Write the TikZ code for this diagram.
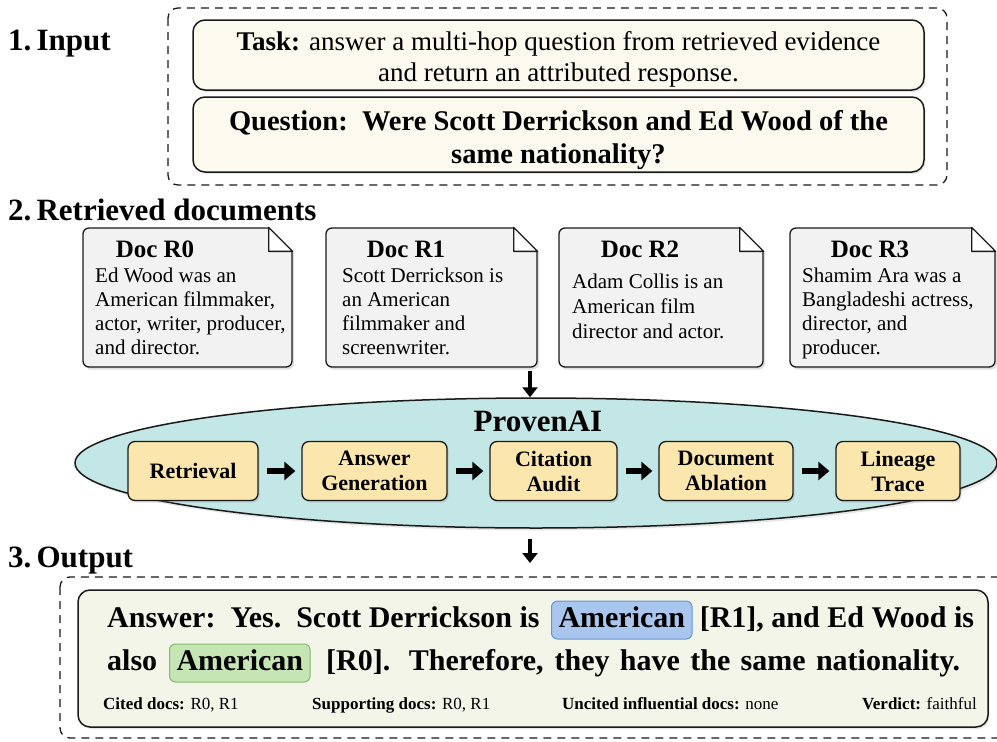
\documentclass[tikz,border=0pt]{standalone}
\usepackage{fontspec}
\setmainfont{Liberation Serif}
\usetikzlibrary{shapes.geometric,arrows.meta,shadows,calc}
\definecolor{creambg}{HTML}{FCF9EE}
\definecolor{answerbg}{HTML}{F3F5E8}
\definecolor{tealbg}{HTML}{C3E6E6}
\definecolor{stagebg}{HTML}{FBE6AE}
\definecolor{docbg}{HTML}{F2F2F2}
\definecolor{hlblue}{HTML}{A9C6EE}
\definecolor{hlblueb}{HTML}{6792D6}
\definecolor{hlgreen}{HTML}{C6E5B5}
\definecolor{hlgreenb}{HTML}{80BC6C}
\definecolor{ink}{HTML}{1A1A1A}
\newcommand\dogear[1]{%
  \fill[white] ($(#1.north east)+(-24pt,0)$) -- ($(#1.north east)+(-24pt,3pt)$) -- ($(#1.north east)+(5pt,3pt)$) -- ($(#1.north east)+(5pt,-24pt)$) -- ($(#1.north east)+(0,-24pt)$) -- cycle;
  \draw[line width=1.3pt, draw=ink, fill=white, line join=round] ($(#1.north east)+(-24pt,0)$) -- ($(#1.north east)+(0,-24pt)$) -- ($(#1.north east)+(-24pt,-24pt)$) -- cycle;}
\begin{document}
\begin{tikzpicture}[x=1pt,y=-1pt,
  secttitle/.style={anchor=base west, inner sep=0pt, font=\fontsize{31}{36}\selectfont\bfseries},
  dashbox/.style={draw=ink, line width=1.3pt, dash pattern=on 8pt off 6pt, rounded corners=10pt},
  inbox/.style={draw=ink, line width=1.5pt, fill=creambg, rounded corners=12pt,
     drop shadow={opacity=0.2, shadow xshift=1.5pt, shadow yshift=-2pt}},
  intext/.style={align=center, inner sep=0pt},
  docbox/.style={draw=ink, line width=1.3pt, fill=docbg, rounded corners=6pt, minimum height=139pt,
     drop shadow={opacity=0.25, shadow xshift=2pt, shadow yshift=-2.5pt}},
  doctitle/.style={anchor=base, inner sep=0pt, font=\fontsize{25}{28}\selectfont\bfseries},
  docbody/.style={anchor=base west, inner sep=0pt},
  stage/.style={draw=ink, line width=1.3pt, fill=stagebg, rounded corners=7pt, minimum height=59pt,
     align=center, font=\fontsize{22}{25}\selectfont\bfseries,
     drop shadow={opacity=0.25, shadow xshift=1.5pt, shadow yshift=-2pt}},
  harr/.style={line width=5.5pt, -{Triangle[length=11pt,width=18pt]}, shorten <=8pt, shorten >=6pt},
  varr/.style={line width=4pt, -{Triangle[length=10pt,width=15pt]}},
  hl/.style={anchor=base west, rounded corners=6pt, line width=1pt, inner xsep=7pt,
     text height=21pt, text depth=7pt, inner ysep=5pt, font=\fontsize{30}{36}\selectfont\bfseries},
  ans/.style={anchor=base west, inner sep=0pt, font=\fontsize{30}{36}\selectfont\bfseries},
  foot/.style={anchor=base west, inner sep=0pt, font=\fontsize{17}{20}\selectfont}
]
\useasboundingbox (0,0) rectangle (997,742);

% ---------- 1. Input ----------
\node[secttitle] (s1) at (8,50) {1.\,Input};
\draw[dashbox] (168,8) rectangle (947,185);
\node[inbox, minimum width=731pt, minimum height=70pt] (task) at (558.5,55) {};
\node[intext, font=\fontsize{27}{31}\selectfont] (tasktxt) at ([yshift=-4pt]task.center)
  {\textbf{Task:} answer a multi-hop question from retrieved evidence\\and return an attributed response.};
\node[inbox, minimum width=731pt, minimum height=75pt] (quest) at (558.5,134.5) {};
\node[intext, font=\fontsize{28.5}{33}\selectfont\bfseries] (questtxt) at ([yshift=-6pt]quest.center)
  {Question:~~Were Scott Derrickson and Ed Wood of the\\same nationality?};

% ---------- 2. Retrieved documents ----------
\node[secttitle] (s2) at (8,220) {2.\,Retrieved documents};

\node[docbox, minimum width=209pt] (d0) at (187.5,297.5) {};
\node[docbox, minimum width=211pt] (d1) at (431.5,297.5) {};
\node[docbox, minimum width=204pt] (d2) at (661,297.5) {};
\node[docbox, minimum width=205pt] (d3) at (892.5,297.5) {};
\dogear{d0}\dogear{d1}\dogear{d2}\dogear{d3}

\node[doctitle] (t0) at (155,257) {Doc R0};
\node[doctitle] (t1) at (406,257) {Doc R1};
\node[doctitle] (t2) at (640,257) {Doc R2};
\node[doctitle] (t3) at (870,257) {Doc R3};

\node[docbody] (b0) at (95,282) {\parbox[t]{195pt}{\fontsize{21}{24}\selectfont\raggedright Ed Wood was an\\American filmmaker,\\actor, writer, producer,\\and director.}};
\node[docbody] (b1) at (342,282) {\parbox[t]{190pt}{\fontsize{21}{24}\selectfont\raggedright Scott Derrickson is\\an American\\filmmaker and\\screenwriter.}};
\node[docbody] (b2) at (572,288) {\parbox[t]{185pt}{\fontsize{21}{25}\selectfont\raggedright Adam Collis is an\\American film\\director and actor.}};
\node[docbody] (b3) at (802,282) {\parbox[t]{190pt}{\fontsize{21}{24}\selectfont\raggedright Shamim Ara was a\\Bangladeshi actress,\\director, and\\producer.}};

% ---------- ProvenAI ----------
\node[ellipse, draw=ink, line width=1.5pt, fill=tealbg, minimum width=922pt, minimum height=130pt,
      drop shadow={opacity=0.2, shadow xshift=2pt, shadow yshift=-2.5pt}] (ell) at (536,463) {};
\node[anchor=base, inner sep=0pt, font=\fontsize{31}{36}\selectfont\bfseries] (prov) at (538,431) {ProvenAI};

\node[stage, minimum width=130pt] (st1) at (193,471) {Retrieval};
\node[stage, minimum width=145pt] (st2) at (374.5,471) {Answer\\Generation};
\node[stage, minimum width=127pt] (st3) at (553.5,471) {Citation\\Audit};
\node[stage, minimum width=134pt] (st4) at (726,471) {Document\\Ablation};
\node[stage, minimum width=124pt] (st5) at (898,471) {Lineage\\Trace};
\draw[harr] (st1) -- (st2);
\draw[harr] (st2) -- (st3);
\draw[harr] (st3) -- (st4);
\draw[harr] (st4) -- (st5);

\coordinate (ax) at (530,0);
\coordinate (aend) at (530,563);
\draw[varr, shorten <=3pt] (d1.south -| ax) -- (ell.north -| ax);
\draw[varr, shorten <=10pt] (ell.south -| ax) -- (aend);

% ---------- 3. Output ----------
\node[secttitle] (s3) at (8,567) {3.\,Output};
\draw[dashbox] (60,577) rectangle (1010,738);
\node[draw=ink, line width=1.5pt, fill=answerbg, rounded corners=12pt, minimum width=910pt, minimum height=137pt,
      drop shadow={opacity=0.2, shadow xshift=1.5pt, shadow yshift=-2pt}] (ansbox) at (533,658.5) {};

\node[ans] (l1a) at (107,627) {Answer:~~Yes.~~Scott Derrickson is};
\node[hl, fill=hlblue, draw=hlblueb] (am1) at (551,627) {American};
\node[ans] (l1b) at ([xshift=7pt]am1.base east) {[R1], and Ed Wood is};

\node[ans] (l2a) at (107,670) {also};
\node[hl, fill=hlgreen, draw=hlgreenb] (am2) at (169,670) {American};
\node[ans] (l2b) at (326,670) {\makebox[634pt][s]{[R0]. Therefore, they have the same nationality.}};

\node[foot] (f1) at (103,709) {\textbf{Cited docs:} R0, R1};
\node[foot] (f2) at (312,709) {\textbf{Supporting docs:} R0, R1};
\node[foot] (f3) at (562,709) {\textbf{Uncited influential docs:} none};
\node[foot] (f4) at (862,709) {\textbf{Verdict:} faithful};
\end{tikzpicture}
\end{document}
